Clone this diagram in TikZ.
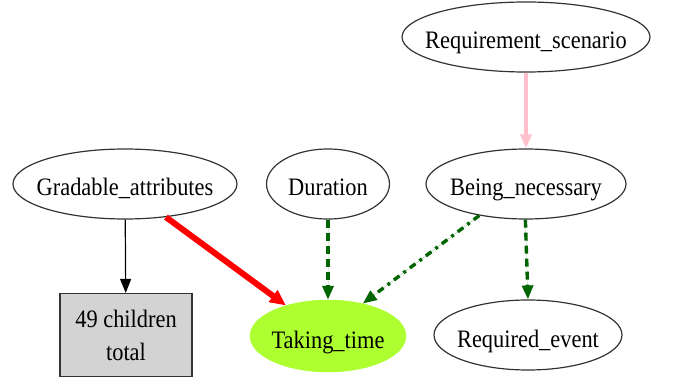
\documentclass[tikz,border=0pt]{standalone}
\usepackage{graphicx}
\usepackage{fontspec}
\setmainfont{Liberation Serif}
\usetikzlibrary{shapes.geometric,arrows.meta}
\definecolor{dgreen}{RGB}{0,100,0}
\definecolor{gyellow}{RGB}{173,255,47}
\definecolor{pinkc}{RGB}{255,192,203}
\definecolor{boxgray}{RGB}{211,211,211}
\newcommand\vtxt[1]{\makebox[0pt]{\scalebox{1}[1.12]{#1}}}
\begin{document}
\begin{tikzpicture}[x=1pt,y=-1pt,
  every node/.style={font=\fontsize{22.4}{33}\selectfont},
  lowtext/.style={text height=24pt,text depth=0pt},
  el/.style={ellipse,draw=black!80,line width=1.2pt,inner sep=0pt,minimum height=70,lowtext},
  gbox/.style={rectangle,draw=black!80,line width=1.2pt,fill=boxgray,inner sep=0pt,align=center,minimum width=132,minimum height=83},
  tip/.style={-{Triangle[length=14pt,width=11pt]}},
  bigtip/.style={-{Triangle[length=16pt,width=14pt]}},
  gdash/.style={tip,draw=dgreen,fill=dgreen,line width=3.4pt,dash pattern=on 8pt off 5pt},
  gdot/.style={tip,draw=dgreen,fill=dgreen,line width=3.4pt,dash pattern=on 7pt off 5pt on 3pt off 5pt}]
\useasboundingbox (0,0) rectangle (675,382);
\node[el,minimum width=248] (R) at (526,37) {\vtxt{Requirement\_scenario}};
\node[el,minimum width=224] (G) at (125,184) {\vtxt{Gradable\_attributes}};
\node[el,minimum width=123] (D) at (328,184) {\vtxt{Duration}};
\node[el,minimum width=200] (B) at (526,184) {\vtxt{Being\_necessary}};
\node[gbox] (C) at (126,335) {\scalebox{1}[1.12]{49 children}\\\scalebox{1}[1.12]{total}};
\node[ellipse,fill=gyellow,draw=gyellow,inner sep=0pt,minimum width=156,minimum height=72,lowtext] (T) at (328,336) {\vtxt{Taking\_time}};
\node[el,minimum width=188] (Q) at (528,335) {\vtxt{Required\_event}};
\draw[tip,draw=pinkc,fill=pinkc,line width=4.5pt] (R) -- (B);
\draw[tip,line width=1.2pt] (G) -- (C);
\draw[bigtip,draw=red,fill=red,line width=6pt] (G.-39) -- (T.144);
\draw[gdash] (D) -- (T);
\draw[gdot] (B.214) -- (T.43);
\draw[gdash] (B.269) -- (Q.90);
\end{tikzpicture}
\end{document}
